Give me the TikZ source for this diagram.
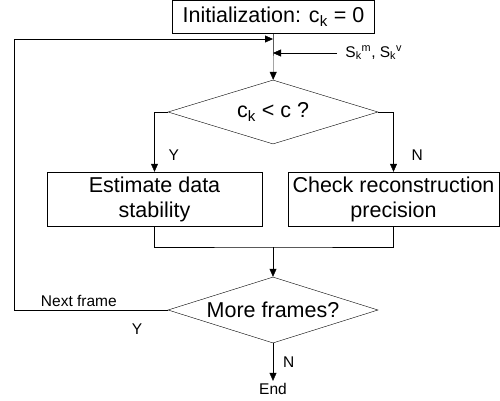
\documentclass[tikz,border=0pt]{standalone}
\usepackage{fontspec}
\setmainfont{Liberation Sans}
\usetikzlibrary{shapes.geometric,arrows.meta}
\tikzset{
    flow-box/.style = {draw, thin, rectangle, inner sep=0pt, align=center, font=\fontsize{21.5}{25}\selectfont},
    flow-decision/.style = {draw, thin, diamond, shape aspect=3.3, inner sep=0pt, minimum width=210pt, font=\fontsize{21.5}{25}\selectfont},
    flow-arrow/.style = {thin, -{Triangle[length=8pt,width=7pt]}},
    flow-label/.style = {inner sep=2pt, font=\fontsize{15.5}{18}\selectfont},
}

\begin{document}
\begin{tikzpicture}[x=1pt, y=-1pt, line width=0.9pt]
\useasboundingbox (0,0) rectangle (500,400);
\node [flow-box, minimum width=202pt, minimum height=33pt] (init) at (273.5,16.5) {Initialization: c\textsubscript{k} = 0};
\coordinate (loop-in) at (273,39);
\coordinate (s-in) at (273,53);
\coordinate (s-start) at (337,53);
\node [flow-label, anchor=west] (s-label) at (343,53) {S\textsubscript{k}\textsuperscript{m}, S\textsubscript{k}\textsuperscript{v}};
\node [flow-decision, minimum height=64pt] (check-c) at (273,112) {c\textsubscript{k} < c ?};
\node [flow-box, minimum width=215pt, minimum height=54pt] (estimate) at (154.5,199) {Estimate data\\stability};
\node [flow-box, minimum width=211pt, minimum height=54pt] (precision) at (393.5,199) {Check reconstruction\\precision};
\coordinate (merge) at (273,247);
\node [flow-decision, minimum height=66pt] (more) at (273,310) {More frames?};
\coordinate (loop-corner) at (14.5,310);
\node [flow-label] (end) at (273,389) {End};

\draw [flow-arrow] (init) -- (check-c);
\draw [flow-arrow] (s-start) -- (s-in);
\draw [flow-arrow] (check-c.west) -| (estimate.north) node [flow-label, pos=0.86, right=12pt] {Y};
\draw [flow-arrow] (check-c.east) -| (precision.north) node [flow-label, pos=0.86, right=16pt] {N};
\draw (estimate.south) |- (merge) -| (precision.south);
\draw [flow-arrow] (merge) -- (more);
\draw [flow-arrow] (more.west) -- (loop-corner) node [flow-label, pos=0.58, above=1pt] {Next frame} node [flow-label, pos=0.2, below=12pt] {Y} |- (loop-in);
\draw [flow-arrow] (more.south) -- (end) node [flow-label, midway, right=8pt] {N};
\end{tikzpicture}
\end{document}
